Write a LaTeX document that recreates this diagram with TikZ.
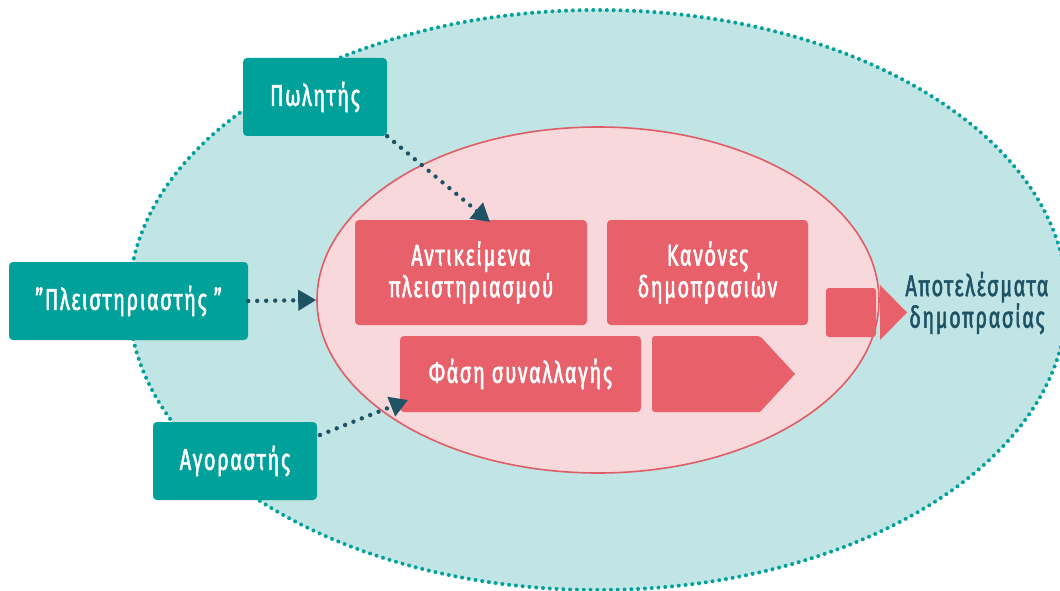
\documentclass[tikz,border=0pt]{standalone}
\usepackage{fontspec}
\setmainfont{Fira Sans}[FakeStretch=0.67, LetterSpace=5, FakeBold=1.6]
\usetikzlibrary{shapes.geometric,arrows.meta}
\definecolor{tealbox}{HTML}{00A19A}
\definecolor{lightbg}{HTML}{C1E4E5}
\definecolor{pinkfill}{HTML}{F9D8DC}
\definecolor{pinkline}{HTML}{DE5D66}
\definecolor{pinkbox}{HTML}{E8606A}
\definecolor{darkteal}{HTML}{1E5366}
\tikzset{
  lbl/.style={font=\fontsize{30}{29}\selectfont},
  actor/.style={lbl, fill=tealbox, rounded corners=4pt, text=white, minimum height=78pt, inner sep=0pt, align=center},
  part/.style={lbl, fill=pinkbox, rounded corners=4pt, text=white, inner sep=0pt, align=center},
  conn/.style={draw=darkteal, line width=4.4pt, dash pattern=on 0pt off 9pt, line cap=round, -{Triangle[length=18pt,width=20pt]}},
}
\begin{document}
\begin{tikzpicture}[x=1pt,y=-1pt]
\useasboundingbox (0,0) rectangle (1060,591);
% outer dotted ellipse
\draw[fill=lightbg, draw=tealbox, line width=4pt, dash pattern=on 0pt off 6.8pt, line cap=round] (598,300) ellipse [x radius=469, y radius=290];
% inner ellipse
\node[ellipse, draw=pinkline, fill=pinkfill, line width=1.6pt, minimum width=562pt, minimum height=346pt, inner sep=0pt] (inner) at (598,300) {};
% pink parts
\node[part, minimum width=232pt, minimum height=105pt] (ant) at (471,272.5) {Αντικείμενα\\πλειστηριασμού};
\node[part, minimum width=201pt, minimum height=105pt] (kan) at (707.5,272.5) {Κανόνες\\δημοπρασιών};
\node[part, minimum width=241pt, minimum height=76pt] (fas) at (520.5,374) {Φάση συναλλαγής};
\fill[pinkbox, rounded corners=3pt] (652,336) -- (760,336) [sharp corners] -- (795,374) -- (760,412) [rounded corners=3pt] -- (652,412) -- cycle;
\node[part, minimum width=50pt, minimum height=49pt, rounded corners=3pt] (sq) at (851,312.5) {};
\fill[pinkbox] (880,285) -- (907,312.5) -- (880,340) -- cycle;
\node[lbl, text=darkteal, align=center, inner sep=0pt] (res) at (977,303) {Αποτελέσματα\\δημοπρασίας};
% actors
\node[actor, minimum width=144pt] (pol) at (315,97) {Πωλητής};
\node[actor, minimum width=239pt] (ple) at (128.5,301) {\char"22 Πλειστηριαστής \char"22};
\node[actor, minimum width=164pt] (ago) at (235,461) {Αγοραστής};
% connectors
\coordinate (t1) at (490,222);
\coordinate (s3) at (320,435);
\coordinate (t3) at (408,400);
\draw[conn] (pol.south east) -- (t1);
\draw[conn] (ple.east) -- (inner.west);
\draw[conn] (s3) -- (t3);
\end{tikzpicture}
\end{document}
